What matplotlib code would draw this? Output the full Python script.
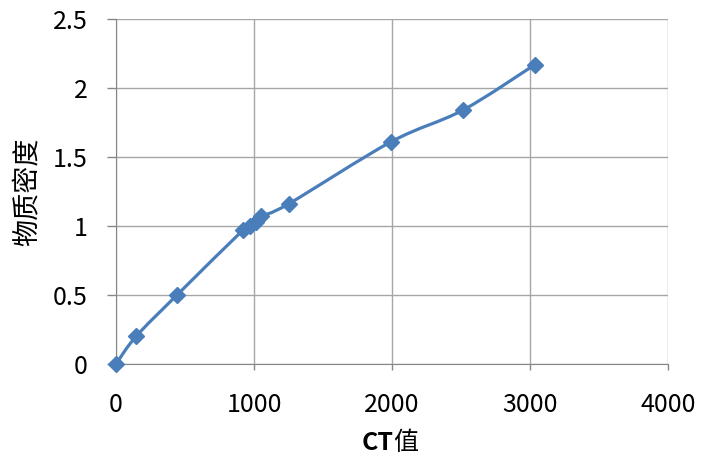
import numpy as np
import matplotlib
matplotlib.use("Agg")
import matplotlib.pyplot as plt
from matplotlib.path import Path
from matplotlib.patches import PathPatch

plt.rcParams['font.family'] = ['Noto Sans CJK SC', 'DejaVu Sans']

# CT value vs material density
ct = [0, 145, 442, 920, 970, 1015, 1050, 1250, 1993, 2514, 3036]
density = [0, 0.2, 0.5, 0.97, 1.0, 1.03, 1.07, 1.16, 1.61, 1.84, 2.17]

x_ticks = [0, 1000, 2000, 3000, 4000]
y_ticks = [0, 0.5, 1, 1.5, 2, 2.5]
y_labels = ['0', '0.5', '1', '1.5', '2', '2.5']

blue = '#4a7ebb'

fig = plt.figure(figsize=(7.01, 4.61), dpi=100)
ax = fig.add_axes([0.1655, 0.2104, 0.7875, 0.7484])

# smoothed line (Catmull-Rom style bezier, like the spreadsheet "smooth line")
pts = np.column_stack([ct, density]).astype(float)
verts = [pts[0]]
codes = [Path.MOVETO]
n = len(pts)
for i in range(n - 1):
    p0 = pts[i - 1] if i > 0 else pts[i]
    p1 = pts[i]
    p2 = pts[i + 1]
    p3 = pts[i + 2] if i + 2 < n else pts[i + 1]
    c1 = p1 + (p2 - p0) / 6.0
    c2 = p2 - (p3 - p1) / 6.0
    verts += [c1, c2, p2]
    codes += [Path.CURVE4] * 3
ax.add_patch(PathPatch(Path(verts, codes), facecolor='none', edgecolor=blue,
                       lw=2.3, zorder=3, clip_on=False))
ax.plot(ct, density, linestyle='none', marker='D', markersize=8.5,
        color=blue, zorder=4, clip_on=False)

ax.set_xlim(0, 4000)
ax.set_ylim(0, 2.5)
ax.set_xticks(x_ticks)
ax.set_yticks(y_ticks)
ax.set_yticklabels(y_labels)
ax.grid(True, color='#a6a6a6', lw=1)
ax.set_axisbelow(True)
for s in ['top', 'right']:
    ax.spines[s].set_visible(False)
for s in ['left', 'bottom']:
    ax.spines[s].set_color('#868686')
ax.tick_params(axis='both', colors='#868686', labelcolor='black',
               labelsize=18, width=1)
ax.tick_params(axis='x', length=4, pad=16)
ax.tick_params(axis='y', length=6.5, pad=14)

# x label: "CT" bold, "值" regular
ax.annotate('CT', xy=(0.5, 0), xycoords='axes fraction', xytext=(1, -57),
            textcoords='offset points', ha='right', va='center',
            fontsize=18, fontweight='bold')
ax.annotate('值', xy=(0.5, 0), xycoords='axes fraction', xytext=(1, -57),
            textcoords='offset points', ha='left', va='center',
            fontsize=18)
ax.set_ylabel('物质密度', fontsize=19.5, labelpad=8)

fig.savefig('out.png', dpi=100)
